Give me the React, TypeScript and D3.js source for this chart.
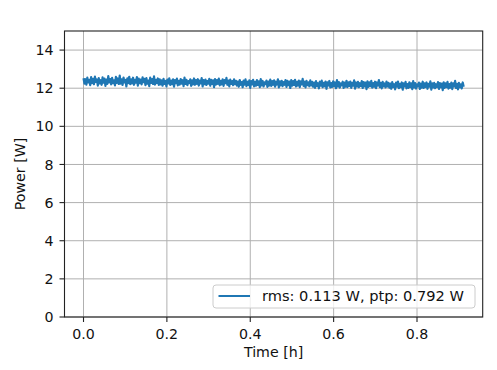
import React from "react";
import * as d3 from "d3";

const tStart = 0;
const tEnd = 0.912;
const power: number[] = [
  12.52, 12.24, 12.47, 12.19, 12.55, 12.30, 12.44, 12.16, 12.58, 12.27, 12.49, 12.21, 12.61, 12.33, 12.46, 12.14, 12.53, 12.25, 12.42, 12.18,
  12.57, 12.29, 12.50, 12.12, 12.45, 12.23, 12.63, 12.31, 12.48, 12.20, 12.54, 12.26, 12.41, 12.15, 12.59, 12.28, 12.51, 12.22, 12.66, 12.24,
  12.46, 12.17, 12.56, 12.30, 12.43, 12.09, 12.52, 12.27, 12.60, 12.21, 12.47, 12.25, 12.55, 12.18, 12.44, 12.29, 12.58, 12.13, 12.50, 12.26,
  12.45, 12.20, 12.57, 12.32, 12.49, 12.16, 12.53, 12.24, 12.40, 12.11, 12.55, 12.28, 12.48, 12.22, 12.62, 12.19, 12.44, 12.27, 12.51, 12.17,
  12.46, 12.20, 12.41, 12.13, 12.49, 12.23, 12.38, 12.10, 12.45, 12.25, 12.52, 12.17, 12.40, 12.21, 12.47, 12.08, 12.43, 12.26, 12.50, 12.15,
  12.39, 12.19, 12.48, 12.24, 12.42, 12.11, 12.55, 12.22, 12.44, 12.16, 12.37, 12.27, 12.46, 12.12, 12.41, 12.20, 12.51, 12.18, 12.43, 12.23,
  12.47, 12.14, 12.40, 12.25, 12.53, 12.09, 12.42, 12.21, 12.45, 12.17, 12.38, 12.24, 12.49, 12.13, 12.44, 12.22, 12.41, 12.06, 12.48, 12.19,
  12.43, 12.23, 12.50, 12.15, 12.39, 12.20, 12.46, 12.12, 12.42, 12.26, 12.54, 12.18, 12.40, 12.10, 12.45, 12.22, 12.37, 12.16, 12.47, 12.21,
  12.39, 12.14, 12.35, 12.08, 12.43, 12.18, 12.32, 12.05, 12.40, 12.19, 12.46, 12.11, 12.34, 12.16, 12.41, 12.02, 12.37, 12.20, 12.44, 12.10,
  12.33, 12.13, 12.42, 12.17, 12.36, 12.06, 12.48, 12.15, 12.38, 12.09, 12.31, 12.21, 12.40, 12.07, 12.35, 12.14, 12.45, 12.12, 12.37, 12.18,
  12.41, 12.08, 12.34, 12.19, 12.47, 12.04, 12.36, 12.15, 12.39, 12.11, 12.32, 12.18, 12.43, 12.07, 12.38, 12.16, 12.35, 12.01, 12.42, 12.13,
  12.37, 12.17, 12.44, 12.09, 12.33, 12.14, 12.40, 12.06, 12.36, 12.20, 12.49, 12.12, 12.34, 12.04, 12.39, 12.16, 12.31, 12.10, 12.41, 12.15,
  12.33, 12.08, 12.29, 12.02, 12.37, 12.12, 12.26, 11.99, 12.34, 12.13, 12.40, 12.05, 12.28, 12.10, 12.35, 11.97, 12.31, 12.14, 12.38, 12.04,
  12.27, 12.07, 12.36, 12.11, 12.30, 12.00, 12.42, 12.09, 12.32, 12.03, 12.25, 12.15, 12.34, 12.01, 12.29, 12.08, 12.39, 12.06, 12.31, 12.12,
  12.35, 12.02, 12.28, 12.13, 12.41, 11.98, 12.30, 12.09, 12.33, 12.05, 12.26, 12.12, 12.37, 12.01, 12.32, 12.10, 12.29, 11.95, 12.36, 12.07,
  12.31, 12.11, 12.38, 12.03, 12.27, 12.08, 12.34, 12.00, 12.30, 12.14, 12.43, 12.06, 12.28, 11.99, 12.33, 12.10, 12.25, 12.04, 12.35, 12.09,
  12.28, 12.03, 12.24, 11.97, 12.32, 12.07, 12.21, 11.94, 12.29, 12.08, 12.35, 12.00, 12.23, 12.05, 12.30, 11.92, 12.26, 12.09, 12.33, 11.99,
  12.22, 12.02, 12.31, 12.06, 12.25, 11.95, 12.37, 12.04, 12.27, 11.98, 12.20, 12.10, 12.29, 11.96, 12.24, 12.03, 12.34, 12.01, 12.26, 12.07,
  12.30, 11.97, 12.23, 12.08, 12.36, 11.93, 12.25, 12.04, 12.28, 12.00, 12.21, 12.07, 12.32, 11.96, 12.27, 12.05, 12.24, 11.90, 12.31, 12.02,
  12.26, 12.06, 12.33, 11.98, 12.22, 12.03, 12.29, 11.95, 12.25, 12.09, 12.38, 12.01, 12.23, 11.94, 12.28, 12.05, 12.20, 11.99, 12.30, 12.08,
];
const xTicks = [0.0, 0.2, 0.4, 0.6, 0.8];
const yTicks = [0, 2, 4, 6, 8, 10, 12, 14];
const legendLabel = "rms: 0.113 W, ptp: 0.792 W";
const xLabel = "Time [h]";
const yLabel = "Power [W]";

const W = 497;
const H = 370;
const L = 64.5;
const R = 482.7;
const T = 31;
const B = 317;
const FONT = "'DejaVu Sans', sans-serif";
const FS = 14.2;
const BLUE = "#1f77b4";
const TICK = 5;

export default function App() {
  const n = power.length;
  const data = power.map((v, i) => ({ t: tStart + ((tEnd - tStart) * i) / (n - 1), v }));
  const span = tEnd - tStart;
  const x = d3.scaleLinear().domain([tStart - 0.05 * span, tEnd + 0.05 * span]).range([L, R]);
  const y = d3.scaleLinear().domain([0, 15]).range([B, T]);
  const line = d3
    .line<{ t: number; v: number }>()
    .x((d) => x(d.t))
    .y((d) => y(d.v));

  return (
    <svg
      width={W}
      height={H}
      style={{ position: "absolute", left: 0, top: 0, background: "#fff" }}
      fontFamily={FONT}
    >
      <rect x={0} y={0} width={W} height={H} fill="#fff" />
      <defs>
        <clipPath id="clip">
          <rect x={L} y={T} width={R - L} height={B - T} />
        </clipPath>
      </defs>
      {xTicks.map((t) => (
        <line key={"gx" + t} x1={x(t)} x2={x(t)} y1={T} y2={B} stroke="#b0b0b0" strokeWidth={1} />
      ))}
      {yTicks.map((t) => (
        <line key={"gy" + t} x1={L} x2={R} y1={y(t)} y2={y(t)} stroke="#b0b0b0" strokeWidth={1} />
      ))}
      <path
        d={line(data) || ""}
        fill="none"
        stroke={BLUE}
        strokeWidth={2.2}
        strokeLinejoin="round"
        clipPath="url(#clip)"
      />
      <rect x={L} y={T} width={R - L} height={B - T} fill="none" stroke="#222" strokeWidth={1.1} />
      {xTicks.map((t) => (
        <g key={"xt" + t}>
          <line x1={x(t)} x2={x(t)} y1={B} y2={B + TICK} stroke="#222" strokeWidth={1.1} />
          <text x={x(t)} y={338.5} textAnchor="middle" fontSize={FS} fill="#111">
            {t.toFixed(1)}
          </text>
        </g>
      ))}
      {yTicks.map((t) => (
        <g key={"yt" + t}>
          <line x1={L - TICK} x2={L} y1={y(t)} y2={y(t)} stroke="#222" strokeWidth={1.1} />
          <text x={L - 11} y={y(t)} dy="0.36em" textAnchor="end" fontSize={FS} fill="#111">
            {t}
          </text>
        </g>
      ))}
      <text x={(L + R) / 2} y={357} textAnchor="middle" fontSize={FS} fill="#111">
        {xLabel}
      </text>
      <text
        transform={`translate(25, ${(T + B) / 2}) rotate(-90)`}
        textAnchor="middle"
        fontSize={FS}
        fill="#111"
      >
        {yLabel}
      </text>
      <g>
        <rect
          x={213}
          y={285}
          width={262}
          height={23}
          rx={3}
          ry={3}
          fill="#fff"
          fillOpacity={0.8}
          stroke="#cccccc"
          strokeWidth={1}
        />
        <line x1={218.5} x2={250} y1={296} y2={296} stroke={BLUE} strokeWidth={2} />
        <text x={262} y={301} fontSize={14.6} fill="#111">
          {legendLabel}
        </text>
      </g>
    </svg>
  );
}
